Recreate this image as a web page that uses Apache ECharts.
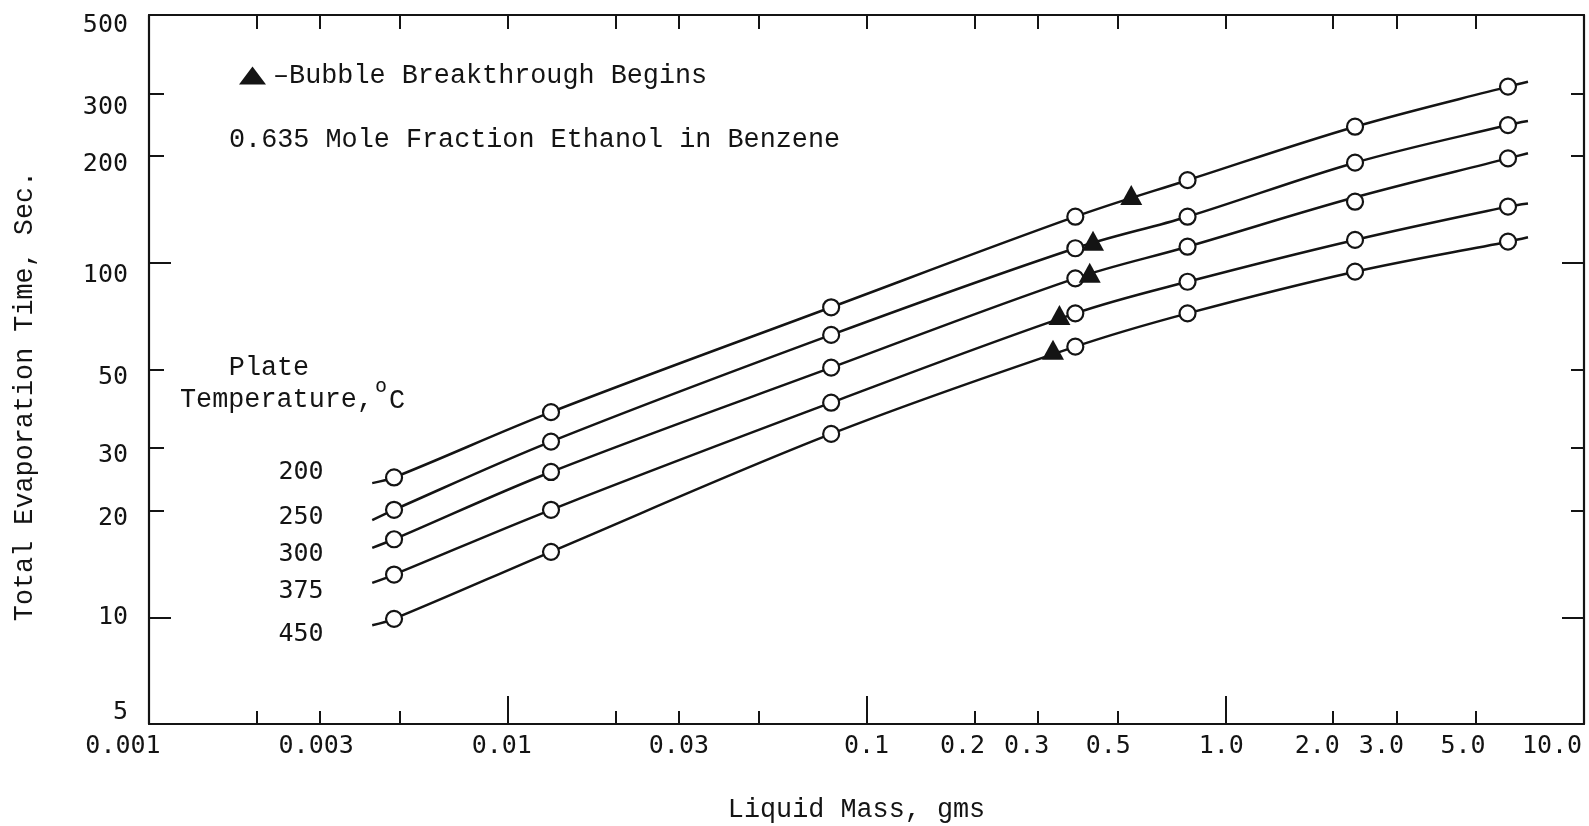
<!DOCTYPE html>
<html><head><meta charset="utf-8">
<script src="https://cdn.jsdelivr.net/npm/echarts@6/dist/echarts.min.js"></script>
<style>html,body{margin:0;padding:0;background:#fff}#c{width:1589px;height:826px}</style>
</head><body><div id="c"></div><script>
// ---------------- data ----------------
const massPts = [0.00482, 0.0132, 0.0797, 0.382, 0.785, 2.30, 6.14];
const time200 = [24.8, 37.9, 74.9, 134.9, 171, 242, 314];
const time250 = [20.1, 31.3, 62.6, 109.9, 134.9, 191.6, 244.6];
const time300 = [16.6, 25.7, 50.6, 90.4, 111, 148.7, 197];
const time375 = [13.2, 20.1, 40.3, 72.0, 88.4, 116, 144];
const time450 = [9.9, 15.3, 32.9, 58.0, 72.0, 94.4, 114.7];
// the faired curves as drawn (they run a little past the end points)
const curveMass = [0.00419, 0.00482, 0.0132, 0.0797, 0.382, 0.785, 2.30, 6.14, 6.98];
const curve200 = [23.9, 24.8, 37.9, 74.9, 134.9, 171, 242, 314, 324];
const curve250 = [18.8, 20.1, 31.3, 62.6, 109.9, 134.9, 191.6, 244.6, 251];
const curve300 = [15.7, 16.6, 25.7, 50.6, 90.4, 111, 153, 197, 203.7];
const curve375 = [12.5, 13.2, 20.1, 40.3, 72.0, 88.4, 116, 144, 147];
const curve450 = [9.5, 9.9, 15.3, 32.9, 58.0, 72.0, 94.4, 114.7, 118];
// bubble breakthrough begins (triangles), one per temperature
const bubbleMass = [0.547, 0.428, 0.419, 0.345, 0.331];
const bubbleTime = [155.3, 115.4, 93.8, 71.2, 56.8];
const temps = ['200', '250', '300', '375', '450'];
// ticks
const xTickLabels = ['0.001','0.003','0.01','0.03','0.1','0.2','0.3','0.5','1.0','2.0','3.0','5.0','10.0'];
const xMajorTicks = [0.01, 0.1, 1];
const xMinorTicks = [0.002, 0.003, 0.005, 0.02, 0.03, 0.05, 0.2, 0.3, 0.5, 2, 3, 5];
const yTickLabels = ['5','10','20','30','50','100','200','300','500'];
const yMajorTicks = [10, 100];
const yMinorTicks = [20, 30, 50, 200, 300];

// ---------------- styles ----------------
const INK = '#141414';
const SERIF = '"Liberation Mono", "Courier New", monospace';
const SANS = '"DejaVu Sans Mono", monospace';
const TXT = 26.8;
const xLabelShift = [-26, -4, -6, 0, 0, -12, -11, -9, -4, -16, -15, -13, -32];
const yLabelShift = [-12, 0, 8, 7, 8, 13, 8, 14, 10];

const xLabelVals = xTickLabels.map(Number);
const yLabelVals = yTickLabels.map(Number);
function nearestIdx(vals, v) {
  let best = 0, bd = Infinity;
  vals.forEach((t, i) => { const d = Math.abs(Math.log10(t) - Math.log10(v)); if (d < bd) { bd = d; best = i; } });
  return best;
}
const xRich = {}, yRich = {};
xTickLabels.forEach((t, i) => {
  const s = xLabelShift[i];
  xRich['x' + i] = { fontFamily: SANS, fontSize: 25, color: INK, padding: [0, s < 0 ? -2 * s : 0, 0, s > 0 ? 2 * s : 0] };
});
yTickLabels.forEach((t, i) => {
  const s = yLabelShift[i];
  yRich['y' + i] = { fontFamily: SANS, fontSize: 25, color: INK, padding: [s > 0 ? 2 * s : 0, 0, s < 0 ? -2 * s : 0, 0] };
});

const tickLine = { color: INK, width: 2 };
const borderLine = { show: true, lineStyle: { color: INK, width: 2.2 } };
const noSplit = { show: false };

function logX(extra) {
  return Object.assign({ type: 'log', logBase: 10, min: 0.001, max: 10, gridIndex: 0, splitLine: noSplit, minorTick: { show: false }, minorSplitLine: { show: false } }, extra);
}
function logY(extra) {
  return Object.assign({ type: 'log', logBase: 10, min: 5, max: 500, gridIndex: 0, splitLine: noSplit, minorTick: { show: false }, minorSplitLine: { show: false } }, extra);
}

const curves = [curve200, curve250, curve300, curve375, curve450];
const times = [time200, time250, time300, time375, time450];
const series = [];
temps.forEach((t, k) => {
  series.push({
    type: 'line', name: t + ' °C curve', xAxisIndex: 0, yAxisIndex: 0,
    data: curveMass.map((m, i) => [m, curves[k][i]]),
    smooth: 0.35, showSymbol: false, symbol: 'none', z: 2,
    lineStyle: { color: INK, width: 2.5 }, silent: true
  });
  series.push({
    type: 'scatter', name: t + ' °C', xAxisIndex: 0, yAxisIndex: 0,
    data: massPts.map((m, i) => [m, times[k][i]]),
    symbol: 'circle', symbolSize: 16, z: 3,
    itemStyle: { color: '#fff', borderColor: INK, borderWidth: 2.2, opacity: 1 }
  });
});
series.push({
  type: 'scatter', name: '–Bubble Breakthrough Begins', xAxisIndex: 0, yAxisIndex: 0,
  data: bubbleMass.map((m, i) => [m, bubbleTime[i]]),
  symbol: 'triangle', symbolSize: [22, 20], z: 4,
  itemStyle: { color: INK, opacity: 1 }
});

const tempLabelY = [472, 517, 554, 591, 634];
const graphic = [
  { type: 'text', x: 25, y: 396, rotation: Math.PI / 2,
    style: { text: 'Total Evaporation Time, Sec.', font: TXT + 'px ' + SERIF, fill: INK, align: 'center', verticalAlign: 'middle' } },
  { type: 'text', x: 229, y: 140,
    style: { text: '0.635 Mole Fraction Ethanol in Benzene', font: TXT + 'px ' + SERIF, fill: INK, align: 'left', verticalAlign: 'middle' } },
  { type: 'text', x: 269, y: 368,
    style: { text: 'Plate', font: TXT + 'px ' + SERIF, fill: INK, align: 'center', verticalAlign: 'middle' } },
  { type: 'text', x: 180, y: 400,
    style: { text: 'Temperature,', font: TXT + 'px ' + SERIF, fill: INK, align: 'left', verticalAlign: 'middle' } },
  { type: 'text', x: 375, y: 387,
    style: { text: 'o', font: '20px ' + SANS, fill: INK, align: 'left', verticalAlign: 'middle' } },
  { type: 'text', x: 389, y: 401,
    style: { text: 'C', font: TXT + 'px ' + SERIF, fill: INK, align: 'left', verticalAlign: 'middle' } }
];
temps.forEach((t, k) => {
  graphic.push({ type: 'text', x: 301, y: tempLabelY[k],
    style: { text: t, font: '25px ' + SANS, fill: INK, align: 'center', verticalAlign: 'middle' } });
});

const option = {
  backgroundColor: '#fff',
  animation: false,
  grid: { left: 149, right: 5, top: 15, bottom: 102, containLabel: false, outerBoundsMode: 'none' },
  legend: {
    left: 234, top: 57, itemWidth: 27, itemHeight: 18, itemGap: 0, selectedMode: false,
    data: [{ name: '–Bubble Breakthrough Begins', icon: 'triangle' }],
    textStyle: { fontFamily: SERIF, fontSize: TXT, color: INK, padding: [0, 0, 0, 2] }
  },
  xAxis: [
    logX({
      position: 'bottom', axisLine: borderLine,
      axisTick: { show: true, inside: true, length: 28, customValues: xMajorTicks, lineStyle: tickLine },
      axisLabel: {
        show: true, margin: 10, customValues: xLabelVals, rich: xRich,
        fontFamily: SANS, fontSize: 25, color: INK,
        formatter: v => { const i = nearestIdx(xLabelVals, v); return '{x' + i + '|' + xTickLabels[i] + '}'; }
      },
      name: 'Liquid Mass, gms', nameLocation: 'middle', nameGap: 72,
      nameTextStyle: { fontFamily: SERIF, fontSize: TXT, color: INK, padding: [0, 20, 0, 0] }
    }),
    logX({
      position: 'bottom', axisLine: { show: false },
      axisTick: { show: true, inside: true, length: 13, customValues: xMinorTicks, lineStyle: tickLine },
      axisLabel: { show: false }
    }),
    logX({
      position: 'top', axisLine: borderLine,
      axisTick: { show: true, inside: true, length: 14, customValues: xMinorTicks.concat(xMajorTicks), lineStyle: tickLine },
      axisLabel: { show: false }
    })
  ],
  yAxis: [
    logY({
      position: 'left', axisLine: borderLine,
      axisTick: { show: true, inside: true, length: 22, customValues: yMajorTicks, lineStyle: tickLine },
      axisLabel: {
        show: true, margin: 21, customValues: yLabelVals, rich: yRich,
        fontFamily: SANS, fontSize: 25, color: INK,
        formatter: v => { const i = nearestIdx(yLabelVals, v); return '{y' + i + '|' + yTickLabels[i] + '}'; }
      }
    }),
    logY({
      position: 'left', axisLine: { show: false },
      axisTick: { show: true, inside: true, length: 15, customValues: yMinorTicks, lineStyle: tickLine },
      axisLabel: { show: false }
    }),
    logY({
      position: 'right', axisLine: borderLine,
      axisTick: { show: true, inside: true, length: 22, customValues: yMajorTicks, lineStyle: tickLine },
      axisLabel: { show: false }
    }),
    logY({
      position: 'right', axisLine: { show: false },
      axisTick: { show: true, inside: true, length: 13, customValues: yMinorTicks, lineStyle: tickLine },
      axisLabel: { show: false }
    })
  ],
  graphic: graphic,
  series: series
};
const chart = echarts.init(document.getElementById('c'), null, { renderer: 'canvas' });
chart.setOption(option);
</script></body></html>
